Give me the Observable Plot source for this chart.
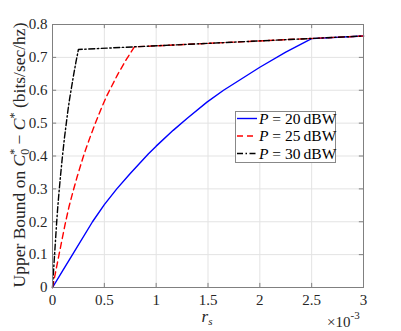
<!DOCTYPE html>
<html><head><meta charset="utf-8">
<script src="https://cdn.jsdelivr.net/npm/d3@7"></script>
<script src="https://cdn.jsdelivr.net/npm/@observablehq/plot@0.6"></script>
<style>body{margin:0;background:#fff}
svg text{font-family:"Liberation Serif","Times New Roman",Times,serif !important;}</style>
</head><body><div id="chart"></div>
<script>
const xTicks = [0, 0.5, 1, 1.5, 2, 2.5, 3];
const yTicks = [0, 0.1, 0.2, 0.3, 0.4, 0.5, 0.6, 0.7, 0.8];
const seriesNames = ["P = 20 dBW", "P = 25 dBW", "P = 30 dBW"];
const blueX = [0, 0.1, 0.193, 0.386, 0.5, 0.62, 0.75, 0.926, 1.0, 1.164, 1.3, 1.49, 1.65, 1.81, 2.0, 2.25, 2.5, 3];
const blueY = [0, 0.052, 0.1, 0.2, 0.252, 0.3, 0.347, 0.407, 0.43, 0.478, 0.515, 0.564, 0.6, 0.632, 0.67, 0.716, 0.757, 0.765];
const redX = [0, 0.032, 0.061, 0.122, 0.158, 0.196, 0.237, 0.293, 0.316, 0.368, 0.411, 0.471, 0.522, 0.572, 0.632, 0.711, 0.79, 3];
const redY = [0, 0.05, 0.097, 0.193, 0.244, 0.29, 0.336, 0.394, 0.416, 0.462, 0.498, 0.545, 0.582, 0.613, 0.65, 0.693, 0.732, 0.765];
const blackX = [0, 0.01, 0.0193, 0.0386, 0.05, 0.062, 0.075, 0.0926, 0.1, 0.116, 0.13, 0.149, 0.165, 0.181, 0.2, 0.225, 0.25, 3];
const blackY = [0, 0.05, 0.096, 0.191, 0.241, 0.287, 0.332, 0.389, 0.411, 0.457, 0.492, 0.539, 0.574, 0.604, 0.64, 0.684, 0.724, 0.765];

const toRows = (xs, ys) => xs.map((x, i) => ({x, y: ys[i]}));
const blue = toRows(blueX, blueY), red = toRows(redX, redY), black = toRows(blackX, blackY);

const axisCol = "#808080";
const chart = Plot.plot({
  width: 401, height: 331,
  marginLeft: 52, marginRight: 38, marginTop: 24, marginBottom: 44,
  style: {fontFamily: "'Liberation Serif', serif", fontSize: "15px", background: "white", color: "#262626"},
  x: {domain: [0, 3]},
  y: {domain: [0, 0.8]},
  marks: [
    Plot.gridX(xTicks, {stroke: "#e3e3e3", strokeOpacity: 1}),
    Plot.gridY(yTicks, {stroke: "#e3e3e3", strokeOpacity: 1}),
    Plot.axisX(xTicks, {tickSize: 0, tickPadding: 7, label: null, tickFormat: d => String(d)}),
    Plot.axisY(yTicks, {tickSize: 0, tickPadding: 5, label: null, tickFormat: d => String(d)}),
    Plot.ruleX(xTicks, {y1: 0, y2: 0.0125, stroke: axisCol}),
    Plot.ruleX(xTicks, {y1: 0.8, y2: 0.7875, stroke: axisCol}),
    Plot.ruleY(yTicks, {x1: 0, x2: 0.04, stroke: axisCol}),
    Plot.ruleY(yTicks, {x1: 3, x2: 2.96, stroke: axisCol}),
    Plot.line(blue, {x: "x", y: "y", stroke: "#0000ff", strokeWidth: 1.4}),
    Plot.line(red, {x: "x", y: "y", stroke: "#ff0000", strokeWidth: 1.4, strokeDasharray: "6,4"}),
    Plot.line(black, {x: "x", y: "y", stroke: "#000000", strokeWidth: 1.4, strokeDasharray: "6,2.5,1.5,2.5"}),
    Plot.frame({stroke: axisCol})
  ]
});
document.getElementById("chart").appendChild(chart);

const svg = d3.select(chart);
const txtCol = "#262626";
// y label
const yl = svg.append("text").attr("transform", "translate(25,155) rotate(-90)")
  .attr("text-anchor", "middle").attr("font-size", 17.5).attr("fill", txtCol);
yl.append("tspan").text("Upper Bound on ");
yl.append("tspan").attr("font-style", "italic").text("C");
yl.append("tspan").attr("font-size", 12).attr("dy", -7).text("*");
yl.append("tspan").attr("font-size", 12).attr("dx", -6).attr("dy", 11).text("0");
yl.append("tspan").attr("dy", -4).text(" \u2212 ");
yl.append("tspan").attr("font-style", "italic").text("C");
yl.append("tspan").attr("font-size", 12).attr("dy", -7).text("*");
yl.append("tspan").attr("dy", 7).text(" (bits/sec/hz)");

// x label
const xl = svg.append("text").attr("x", 207).attr("y", 322).attr("text-anchor", "middle")
  .attr("font-size", 17).attr("fill", txtCol);
xl.append("tspan").attr("font-style", "italic").text("r");
xl.append("tspan").attr("font-style", "italic").attr("font-size", 11).attr("dy", 3).text("s");

// exponent
const ex = svg.append("text").attr("x", 327).attr("y", 327).attr("text-anchor", "start")
  .attr("font-size", 15).attr("fill", txtCol);
ex.append("tspan").text("\u00d710");
ex.append("tspan").attr("font-size", 11).attr("dy", -8).text("-3");

// legend
const lg = svg.append("g");
lg.append("rect").attr("x", 235.5).attr("y", 111.5).attr("width", 100).attr("height", 51)
  .attr("fill", "white").attr("stroke", "#888");
const legStyles = [
  {c: "#0000ff", d: null},
  {c: "#ff0000", d: "6,4"},
  {c: "#000000", d: "6,2.5,1.5,2.5"}
];
const legY = [118.5, 136, 153.5];
const legVals = ["20", "25", "30"];
legStyles.forEach((s, i) => {
  lg.append("line").attr("x1", 237).attr("x2", 257).attr("y1", legY[i]).attr("y2", legY[i])
    .attr("stroke", s.c).attr("stroke-width", 1.4).attr("stroke-dasharray", s.d);
  const t = lg.append("text").attr("x", 259).attr("y", legY[i] + 5).attr("text-anchor", "start")
    .attr("font-size", 15.5).attr("fill", "#000");
  t.append("tspan").attr("font-style", "italic").text("P");
  t.append("tspan").text(" = " + legVals[i] + "\u2009dBW");
});
</script>
</body></html>
